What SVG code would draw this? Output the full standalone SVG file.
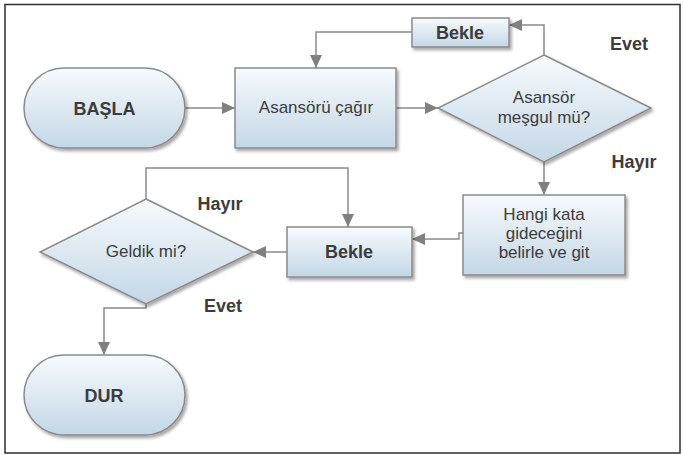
<svg xmlns="http://www.w3.org/2000/svg" width="683" height="455" viewBox="0 0 683 455">
<defs>
<linearGradient id="g" x1="0" y1="0" x2="0" y2="1">
<stop offset="0" stop-color="#f7fafc"/>
<stop offset="1" stop-color="#c3d7e6"/>
</linearGradient>
<filter id="sh" x="-10%" y="-10%" width="125%" height="130%">
<feDropShadow dx="2" dy="2.5" stdDeviation="1.5" flood-color="#000" flood-opacity="0.35"/>
</filter>
<marker id="ar" markerUnits="userSpaceOnUse" markerWidth="14" markerHeight="14" refX="13" refY="7" orient="auto">
<path d="M0,1 L13,7 L0,13 z" fill="#808080"/>
</marker>
</defs>
<style>
.n{fill:url(#g);stroke:#8a8a8a;stroke-width:1.5;filter:url(#sh)}
.t{font-family:"Liberation Sans",Arial,sans-serif;font-size:17px;fill:#3c3c3c;text-anchor:middle}
.b{font-weight:bold;font-size:18px}
.c{fill:none;stroke:#8a8a8a;stroke-width:1.5;marker-end:url(#ar)}
</style>
<rect x="5" y="4.5" width="675" height="448.5" fill="#fff" stroke="#2e2e2e" stroke-width="1.5"/>
<g id="connectors">
<path class="c" d="M185,108 H235"/>
<path class="c" d="M396,108 H438"/>
<path class="c" d="M544,55 V25 H509"/>
<path class="c" d="M412,32 H316 V68"/>
<path class="c" d="M544,162 V195"/>
<path class="c" d="M463,233 H459 V239 H412"/>
<path class="c" d="M287,252 H253"/>
<path class="c" d="M146,199 V168 H348 V227"/>
<path class="c" d="M146,304 V308 H104 V355"/>
</g>
<g id="basla">
<rect class="n" x="24" y="68" width="161" height="80" rx="40"/>
<text class="t b" x="104.5" y="115">BAŞLA</text>
</g>
<g id="asansoru-cagir">
<rect class="n" x="235" y="68" width="161" height="80"/>
<text class="t" x="316" y="113">Asansörü çağır</text>
</g>
<g id="asansor-mesgul">
<polygon class="n" points="544,55 651,108 544,162 438,108"/>
<text class="t" x="544" y="103">Asansör</text>
<text class="t" x="544" y="123">meşgul mü?</text>
</g>
<g id="bekle-top">
<rect class="n" x="412" y="18" width="97" height="29"/>
<text class="t b" x="460" y="39">Bekle</text>
</g>
<g id="hangi-kata">
<rect class="n" x="463" y="195" width="162" height="80"/>
<text class="t" x="544" y="220">Hangi kata</text>
<text class="t" x="544" y="239">gideceğini</text>
<text class="t" x="544" y="258">belirle ve git</text>
</g>
<g id="bekle-mid">
<rect class="n" x="287" y="227" width="125" height="50"/>
<text class="t b" x="349" y="258">Bekle</text>
</g>
<g id="geldik">
<polygon class="n" points="146,199 253,252 146,304 40,252"/>
<text class="t" x="146" y="257">Geldik mi?</text>
</g>
<g id="dur">
<rect class="n" x="24" y="355" width="161" height="80" rx="40"/>
<text class="t b" x="104" y="402">DUR</text>
</g>
<g id="labels">
<text class="t b" x="629" y="50">Evet</text>
<text class="t b" x="634" y="168">Hayır</text>
<text class="t b" x="220" y="210">Hayır</text>
<text class="t b" x="223" y="312">Evet</text>
</g>
</svg>
